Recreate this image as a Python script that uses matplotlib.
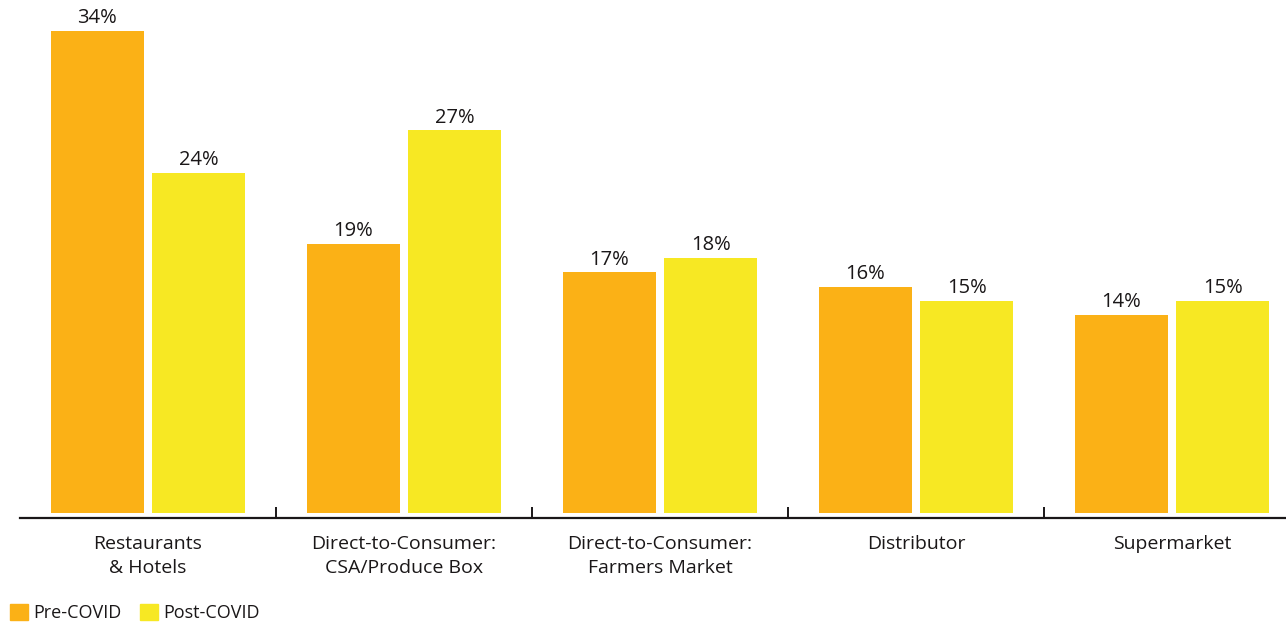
import numpy as np
import matplotlib.pyplot as plt
from matplotlib.patches import Patch

categories = ["Restaurants\n& Hotels", "Direct-to-Consumer:\nCSA/Produce Box",
              "Direct-to-Consumer:\nFarmers Market", "Distributor", "Supermarket"]
pre_covid = [34, 19, 17, 16, 14]
post_covid = [24, 27, 18, 15, 15]

orange = "#FBB116"
yellow = "#F7E823"
ink = "#1A1718"

plt.rcParams['font.family'] = ['Open Sans', 'DejaVu Sans']

fig = plt.figure(figsize=(12.86, 6.23), dpi=100)
# axes runs past the right edge so the last group is cut like the others
ax = fig.add_axes([20 / 1286, 105 / 623, 1280 / 1286, 518 / 623])

x = np.arange(len(categories))
w = 0.363
b1 = ax.bar(x - 0.199, pre_covid, w, color=orange)
b2 = ax.bar(x + 0.199, post_covid, w, color=yellow)
ax.bar_label(b1, labels=[f"{v}%" for v in pre_covid], padding=2, fontsize=14.5, color=ink)
ax.bar_label(b2, labels=[f"{v}%" for v in post_covid], padding=2, fontsize=14.5, color=ink)

ax.set_xlim(-0.5, 4.5)
ax.set_ylim(-0.32, 36.2)

for s in ["top", "right", "left"]:
    ax.spines[s].set_visible(False)
ax.spines["bottom"].set_linewidth(1.6)
ax.spines["bottom"].set_color(ink)
ax.set_yticks([])

ax.set_xticks(x)
ax.set_xticklabels(categories, fontsize=14, color=ink, linespacing=1.45)
ax.tick_params(axis="x", which="major", length=0, pad=12)
ax.set_xticks(x[:-1] + 0.5, minor=True)
ax.tick_params(axis="x", which="minor", direction="in", length=8, width=1.4, color=ink)

handles = [Patch(color=orange, label="Pre-COVID"), Patch(color=yellow, label="Post-COVID")]
fig.legend(handles=handles, loc="lower left", bbox_to_anchor=(-0.005, -0.025), ncol=2,
           frameon=False, fontsize=13, handlelength=1.0, handleheight=1.0,
           handletextpad=0.3, columnspacing=1.0, labelcolor=ink)

fig.savefig("out.png", dpi=100)
